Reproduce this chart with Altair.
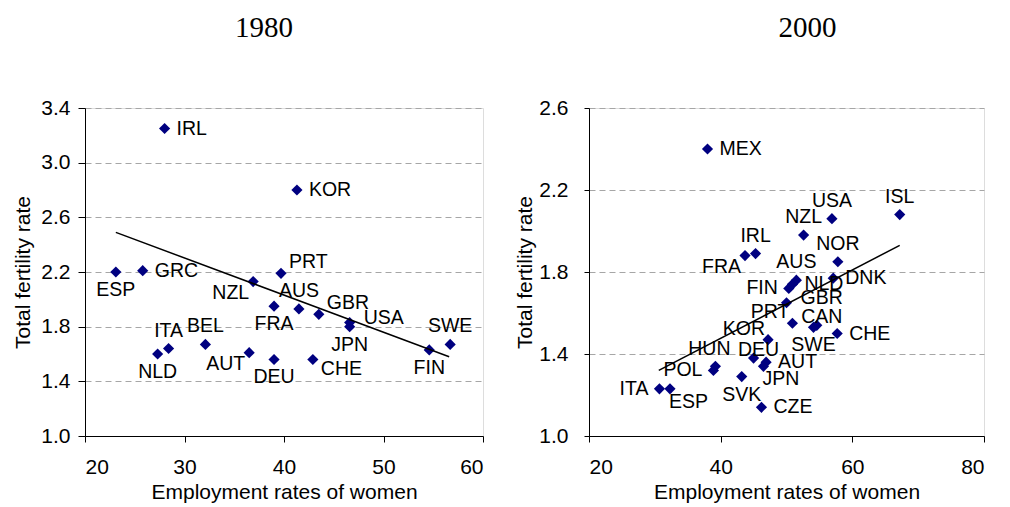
import altair as alt
import pandas as pd

# ---------------- data: 1980 ----------------
countries_1980 = ["IRL", "KOR", "ESP", "GRC", "PRT", "NZL", "AUS", "GBR", "FRA", "USA",
                  "JPN", "SWE", "FIN", "ITA", "NLD", "BEL", "AUT", "DEU", "CHE"]
emp_1980 = [28.0, 41.3, 23.1, 25.8, 39.7, 36.9, 41.5, 43.5, 39.0, 46.6,
            46.6, 56.7, 54.6, 28.4, 27.3, 32.1, 36.5, 39.0, 42.9]
tfr_1980 = [3.25, 2.80, 2.20, 2.21, 2.19, 2.13, 1.93, 1.89, 1.95, 1.83,
            1.80, 1.67, 1.63, 1.64, 1.60, 1.67, 1.61, 1.56, 1.56]
label_side_1980 = ["right", "right", "below", "right", "aboveright", "belowleft", "above",
                   "aboveright", "below", "rightup", "below", "above", "below", "above",
                   "below", "above", "belowleft", "below", "belowright"]
trend_emp_1980 = [23.1, 56.6]
trend_tfr_1980 = [2.49, 1.58]

# ---------------- data: 2000 ----------------
countries_2000 = ["MEX", "ISL", "USA", "NZL", "IRL", "FRA", "NOR", "AUS", "DNK", "NLD",
                  "FIN", "GBR", "PRT", "CAN", "SWE", "CHE", "KOR", "HUN", "DEU", "POL",
                  "AUT", "JPN", "SVK", "ITA", "ESP", "CZE"]
emp_2000 = [38.0, 67.2, 56.9, 52.6, 45.3, 43.7, 57.8, 51.5, 57.1, 50.9,
            50.35, 50.0, 50.9, 54.6, 54.1, 57.7, 47.2, 39.2, 45.0, 38.9,
            46.9, 46.5, 43.2, 30.7, 32.3, 46.2]
tfr_2000 = [2.40, 2.08, 2.06, 1.98, 1.89, 1.88, 1.85, 1.76, 1.77, 1.74,
            1.72, 1.65, 1.55, 1.54, 1.53, 1.50, 1.47, 1.34, 1.38, 1.32,
            1.36, 1.34, 1.29, 1.23, 1.23, 1.14]
label_side_2000 = ["right", "above", "above", "above", "above", "belowleft", "above", "above",
                   "right", "right", "left", "rightup", "aboveleft", "nearabove", "below",
                   "right", "aboveleft", "aboveshift", "nearabove", "left", "right",
                   "lowright", "below", "left", "lowright", "right"]
trend_emp_2000 = [30.6, 67.2]
trend_tfr_2000 = [1.32, 1.93]

x_title = "Employment rates of women"
y_title = "Total fertility rate"

FONT = "Liberation Sans"
MARK_COLOR = "#000080"
LABEL_SIZE = 19.5
TICK_SIZE = 21
AXIS_TITLE_SIZE = 21

PLACEMENT = {
    "right": dict(dx=12, dy=0, align="left"),
    "rightup": dict(dx=14, dy=-5, align="left"),
    "left": dict(dx=-11, dy=0, align="right"),
    "above": dict(dx=0, dy=-18, align="center"),
    "aboveshift": dict(dx=-6, dy=-17, align="center"),
    "below": dict(dx=0, dy=18, align="center"),
    "nearabove": dict(dx=5, dy=-8, align="center"),
    "aboveright": dict(dx=8, dy=-11, align="left"),
    "belowright": dict(dx=8, dy=10, align="left"),
    "lowright": dict(dx=-1, dy=13, align="left"),
    "aboveleft": dict(dx=-3, dy=-11, align="right"),
    "belowleft": dict(dx=-4, dy=11, align="right"),
}


def panel(title, countries, emp, tfr, sides, t_emp, t_tfr, x_dom, x_ticks, y_dom, y_ticks,
          w, h, y_tick, y_lpad, y_tpad, title_dx):
    df = pd.DataFrame({"country": countries, "emp": emp, "tfr": tfr, "side": sides})
    tdf = pd.DataFrame({"emp": t_emp, "tfr": t_tfr})
    x = alt.X("emp:Q",
              scale=alt.Scale(domain=x_dom, nice=False, zero=False),
              axis=alt.Axis(values=x_ticks, title=x_title, grid=False, format="d",
                            domainColor="black", tickColor="black", tickSize=6,
                            labelPadding=14, labelFontSize=TICK_SIZE, labelFont=FONT,
                            labelColor="black", titleFont=FONT, titleFontSize=AXIS_TITLE_SIZE,
                            titleFontWeight="normal", titleColor="black", titlePadding=4))
    y = alt.Y("tfr:Q",
              scale=alt.Scale(domain=y_dom, nice=False, zero=False),
              axis=alt.Axis(values=y_ticks, title=y_title, format=".1f", grid=True,
                            gridDash=[6, 4], gridColor="#a6a6a6", gridWidth=1,
                            domainColor="black", tickColor="black", tickSize=y_tick,
                            labelPadding=y_lpad, labelFontSize=TICK_SIZE, labelFont=FONT,
                            labelColor="black", titleFont=FONT, titleFontSize=AXIS_TITLE_SIZE,
                            titleFontWeight="normal", titleColor="black",
                            titlePadding=y_tpad))
    pts = alt.Chart(df).mark_point(shape="diamond", filled=True, size=125,
                                   color=MARK_COLOR, opacity=1).encode(x=x, y=y)
    trend = alt.Chart(tdf).mark_line(color="black", strokeWidth=1.5).encode(x=x, y=y)
    texts = []
    for side, p in PLACEMENT.items():
        if side not in sides:
            continue
        texts.append(
            alt.Chart(df).transform_filter(alt.datum.side == side)
            .mark_text(font=FONT, fontSize=LABEL_SIZE, color="black", baseline="middle", **p)
            .encode(x=x, y=y, text="country:N")
        )
    return alt.layer(pts, trend, *texts).properties(
        width=w, height=h,
        title=alt.TitleParams(text=title, font="Liberation Serif", fontSize=29,
                              fontWeight="normal", color="black", anchor="middle",
                              frame="group", dx=title_dx, offset=54))


left = panel("1980", countries_1980, emp_1980, tfr_1980, label_side_1980,
             trend_emp_1980, trend_tfr_1980, [20, 60], [20, 30, 40, 50, 60],
             [1.0, 3.4], [1.0, 1.4, 1.8, 2.2, 2.6, 3.0, 3.4], 398, 328, 7, 8, 7, -20)
right = panel("2000", countries_2000, emp_2000, tfr_2000, label_side_2000,
              trend_emp_2000, trend_tfr_2000, [20, 80], [20, 40, 60, 80],
              [1.0, 2.6], [1.0, 1.4, 1.8, 2.2, 2.6], 395, 328, 5, 16, 3, 21)

chart = alt.hconcat(left, right, spacing=30).properties(
    padding={"left": 4, "top": 5, "right": 0, "bottom": 0}
).configure_view(stroke="#a0a0a0", strokeWidth=1).configure(background="white")

chart.save("out.html", embed_options={"renderer": "svg", "actions": False})
